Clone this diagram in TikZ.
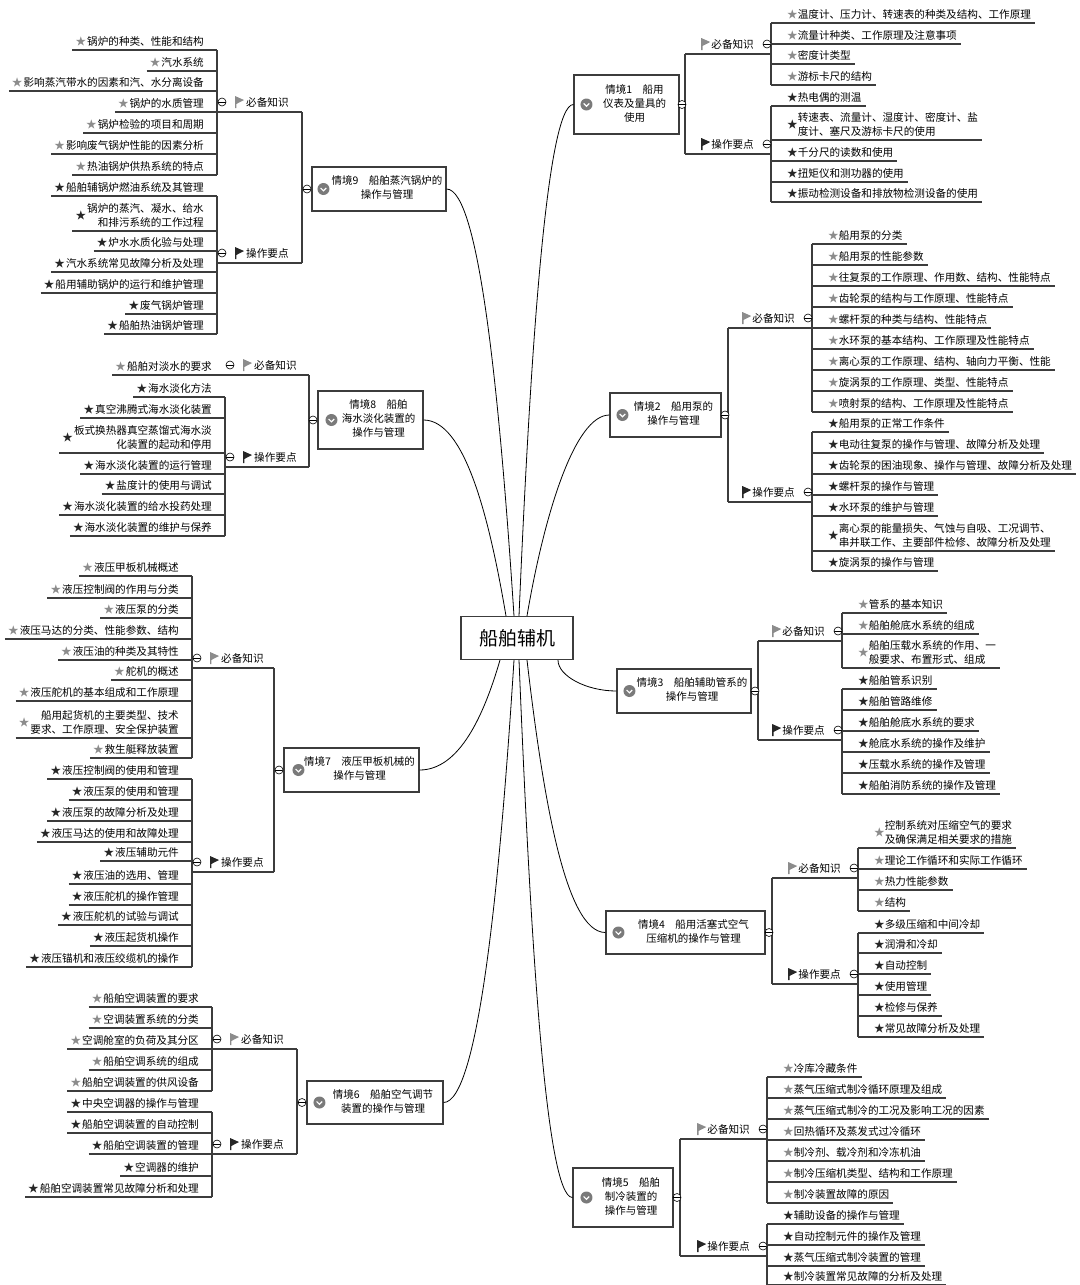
\documentclass[tikz,border=0pt]{standalone}
\usepackage{fontspec}
\setmainfont{Noto Sans CJK SC}
\usepackage{xcolor}
\definecolor{inkline}{HTML}{3C3C3C}
\definecolor{stargray}{HTML}{8C8C8C}
\definecolor{starblack}{HTML}{262626}
\definecolor{icongray}{HTML}{7A7A7A}
\usetikzlibrary{calc}
\newcommand{\gst}{{\color{stargray}★}}
\newcommand{\bst}{{\color{starblack}★}}
\newcommand{\lfl}[1]{\begin{tabular}{@{}l@{}}#1\end{tabular}}
\newcommand{\lfr}[1]{\begin{tabular}{@{}r@{}}#1\end{tabular}}
\newcommand{\bxt}[1]{\hspace*{16pt}\begin{tabular}{@{}c@{}}#1\end{tabular}}
\tikzset{
  hub/.style={draw=inkline, line width=1.1pt, fill=white, minimum width=112, minimum height=43,
              font=\fontsize{19}{22}\selectfont},
  sbox/.style={draw=inkline, line width=1.1pt, fill=white, inner sep=0pt,
               font=\fontsize{10.5}{14}\selectfont},
  ico/.style={circle, fill=icongray, minimum size=12, inner sep=0pt,
              path picture={\draw[white, line width=1.2pt]
                ([xshift=-2.8pt,yshift=1pt]path picture bounding box.center) --
                ([yshift=-1.8pt]path picture bounding box.center) --
                ([xshift=2.8pt,yshift=1pt]path picture bounding box.center);}},
  fold/.style={circle, draw=black, fill=white, line width=0.6pt, minimum size=8, inner sep=0pt,
               path picture={\draw[line width=0.6pt] (path picture bounding box.west) -- (path picture bounding box.east);}},
  lfR/.style={anchor=south west, inner xsep=4pt, inner ysep=0pt, font=\fontsize{10.6}{14}\selectfont},
  lfL/.style={anchor=south east, inner xsep=3pt, inner ysep=0pt, font=\fontsize{10.6}{14}\selectfont},
  catR/.style={anchor=east, inner sep=0pt, font=\fontsize{10.6}{13}\selectfont},
  catL/.style={anchor=west, inner sep=0pt, font=\fontsize{10.6}{13}\selectfont},
  ln/.style={draw=inkline, line width=1.1pt},
  ar/.style={draw=black, line width=0.8pt},
  flagpic/.pic={\fill (0,6) -- (0,-6) -- (9,-2) -- (1.3,2) -- (1.3,6) -- cycle;},
}

\begin{document}
\begin{tikzpicture}[x=1pt, y=-1pt]
  \useasboundingbox (0,0) rectangle (1079,1285);
  \node[hub] (hub) at (517,638) {船舶辅机};

  % 情境1
  \node[sbox, minimum width=105, minimum height=59] (s1) at (626.5,104.5) {\bxt{情境1\quad 船用\\仪表及量具的\\使用}};
  \node[ico] (i1) at ([xshift=13pt]s1.west) {};
  \draw[ln] (685,54) -- (685,154);
  \draw[ln] (685,54) -- (771,54);
  \draw[ln] (685,154) -- (771,154);
  \draw[ln] (771,23) -- (771,85);
  \draw[ln] (771,106) -- (771,202);
  \node[catR] (c1a) at (754,44) {必备知识};
  \node[catR] (c1b) at (754,144) {操作要点};
  \pic[color=stargray] at ([xshift=-10pt]c1a.west) {flagpic};
  \pic[color=starblack] at ([xshift=-10pt]c1b.west) {flagpic};
  \foreach \y/\txt [count=\i] in {23/{温度计、压力计、转速表的种类及结构、工作原理}, 44/{流量计种类、工作原理及注意事项},
      64/{密度计类型}, 85/{游标卡尺的结构}}{
    \node[lfR] (l1a\i) at (783,\y) {\gst\lfl{\txt}};
    \draw[ln] (771,\y) -- (l1a\i.south east);
  }
  \foreach \y/\txt [count=\i] in {106/{热电偶的测温}, 140/{转速表、流量计、湿度计、密度计、盐\\度计、塞尺及游标卡尺的使用},
      161/{千分尺的读数和使用}, 182/{扭矩仪和测功器的使用}, 202/{振动检测设备和排放物检测设备的使用}}{
    \node[lfR] (l1b\i) at (783,\y) {\bst\lfl{\txt}};
    \draw[ln] (771,\y) -- (l1b\i.south east);
  }
  \node[fold] (f1) at (682,104.5) {};
  \node[fold] (f1a) at (767,44) {};
  \node[fold] (f1b) at (767,144) {};

  % 情境2
  \node[sbox, minimum width=111, minimum height=44] (s2) at (665.5,415) {\bxt{情境2\quad 船用泵的\\操作与管理}};
  \node[ico] (i2) at ([xshift=13pt]s2.west) {};
  \draw[ln] (728,328) -- (728,502);
  \draw[ln] (728,328) -- (812,328);
  \draw[ln] (728,502) -- (812,502);
  \draw[ln] (812,244) -- (812,412);
  \draw[ln] (812,432) -- (812,571);
  \node[catR] (c2a) at (795,318) {必备知识};
  \node[catR] (c2b) at (795,492) {操作要点};
  \pic[color=stargray] at ([xshift=-10pt]c2a.west) {flagpic};
  \pic[color=starblack] at ([xshift=-10pt]c2b.west) {flagpic};
  \foreach \y/\txt [count=\i] in {244/{船用泵的分类}, 265/{船用泵的性能参数}, 286/{往复泵的工作原理、作用数、结构、性能特点},
      307/{齿轮泵的结构与工作原理、性能特点}, 328/{螺杆泵的种类与结构、性能特点}, 349/{水环泵的基本结构、工作原理及性能特点},
      370/{离心泵的工作原理、结构、轴向力平衡、性能}, 391/{旋涡泵的工作原理、类型、性能特点}, 412/{喷射泵的结构、工作原理及性能特点}}{
    \node[lfR] (l2a\i) at (824,\y) {\gst\lfl{\txt}};
    \draw[ln] (812,\y) -- (l2a\i.south east);
  }
  \foreach \y/\txt [count=\i] in {432/{船用泵的正常工作条件}, 453/{电动往复泵的操作与管理、故障分析及处理},
      474/{齿轮泵的困油现象、操作与管理、故障分析及处理}, 495/{螺杆泵的操作与管理}, 516/{水环泵的维护与管理},
      551/{离心泵的能量损失、气蚀与自吸、工况调节、\\串并联工作、主要部件检修、故障分析及处理}, 571/{旋涡泵的操作与管理}}{
    \node[lfR] (l2b\i) at (824,\y) {\bst\lfl{\txt}};
    \draw[ln] (812,\y) -- (l2b\i.south east);
  }
  \node[fold] (f2) at (725,415) {};
  \node[fold] (f2a) at (808,318) {};
  \node[fold] (f2b) at (808,492) {};

  % 情境3
  \node[sbox, minimum width=134, minimum height=44] (s3) at (684,691) {\bxt{情境3\quad 船舶辅助管系的\\操作与管理}};
  \node[ico] (i3) at ([xshift=13pt]s3.west) {};
  \draw[ln] (758,641) -- (758,740);
  \draw[ln] (758,641) -- (842,641);
  \draw[ln] (758,740) -- (842,740);
  \draw[ln] (842,613) -- (842,668);
  \draw[ln] (842,689) -- (842,794);
  \node[catR] (c3a) at (825,631) {必备知识};
  \node[catR] (c3b) at (825,730) {操作要点};
  \pic[color=stargray] at ([xshift=-10pt]c3a.west) {flagpic};
  \pic[color=starblack] at ([xshift=-10pt]c3b.west) {flagpic};
  \foreach \y/\txt [count=\i] in {613/{管系的基本知识}, 634/{船舶舱底水系统的组成},
      668/{船舶压载水系统的作用、一\\般要求、布置形式、组成}}{
    \node[lfR] (l3a\i) at (854,\y) {\gst\lfl{\txt}};
    \draw[ln] (842,\y) -- (l3a\i.south east);
  }
  \foreach \y/\txt [count=\i] in {689/{船舶管系识别}, 710/{船舶管路维修}, 731/{船舶舱底水系统的要求},
      752/{舱底水系统的操作及维护}, 773/{压载水系统的操作及管理}, 794/{船舶消防系统的操作及管理}}{
    \node[lfR] (l3b\i) at (854,\y) {\bst\lfl{\txt}};
    \draw[ln] (842,\y) -- (l3b\i.south east);
  }
  \node[fold] (f3) at (755,691) {};
  \node[fold] (f3a) at (838,631) {};
  \node[fold] (f3b) at (838,730) {};

  % 情境4
  \node[sbox, minimum width=159, minimum height=43] (s4) at (685.5,932.5) {\bxt{情境4\quad 船用活塞式空气\\压缩机的操作与管理}};
  \node[ico] (i4) at ([xshift=13pt]s4.west) {};
  \draw[ln] (772,878) -- (772,984);
  \draw[ln] (772,878) -- (858,878);
  \draw[ln] (772,984) -- (858,984);
  \draw[ln] (858,848) -- (858,911);
  \draw[ln] (858,933) -- (858,1037);
  \node[catR] (c4a) at (841,868) {必备知识};
  \node[catR] (c4b) at (841,974) {操作要点};
  \pic[color=stargray] at ([xshift=-10pt]c4a.west) {flagpic};
  \pic[color=starblack] at ([xshift=-10pt]c4b.west) {flagpic};
  \foreach \y/\txt [count=\i] in {848/{控制系统对压缩空气的要求\\及确保满足相关要求的措施}, 869/{理论工作循环和实际工作循环},
      890/{热力性能参数}, 911/{结构}}{
    \node[lfR] (l4a\i) at (870,\y) {\gst\lfl{\txt}};
    \draw[ln] (858,\y) -- (l4a\i.south east);
  }
  \foreach \y/\txt [count=\i] in {933/{多级压缩和中间冷却}, 953/{润滑和冷却}, 974/{自动控制},
      995/{使用管理}, 1016/{检修与保养}, 1037/{常见故障分析及处理}}{
    \node[lfR] (l4b\i) at (870,\y) {\bst\lfl{\txt}};
    \draw[ln] (858,\y) -- (l4b\i.south east);
  }
  \node[fold] (f4) at (769,932.5) {};
  \node[fold] (f4a) at (854,868) {};
  \node[fold] (f4b) at (854,974) {};

  % 情境5
  \node[sbox, minimum width=100, minimum height=59] (s5) at (623,1197.5) {\bxt{情境5\quad 船舶\\制冷装置的\\操作与管理}};
  \node[ico] (i5) at ([xshift=14pt]s5.west) {};
  \draw[ln] (680,1139) -- (680,1256);
  \draw[ln] (680,1139) -- (767,1139);
  \draw[ln] (680,1256) -- (767,1256);
  \draw[ln] (767,1077) -- (767,1203);
  \draw[ln] (767,1224) -- (767,1285);
  \node[catR] (c5a) at (750,1129) {必备知识};
  \node[catR] (c5b) at (750,1246) {操作要点};
  \pic[color=stargray] at ([xshift=-10pt]c5a.west) {flagpic};
  \pic[color=starblack] at ([xshift=-10pt]c5b.west) {flagpic};
  \foreach \y/\txt [count=\i] in {1077/{冷库冷藏条件}, 1098/{蒸气压缩式制冷循环原理及组成},
      1119/{蒸气压缩式制冷的工况及影响工况的因素}, 1140/{回热循环及蒸发式过冷循环}, 1161/{制冷剂、载冷剂和冷冻机油},
      1182/{制冷压缩机类型、结构和工作原理}, 1203/{制冷装置故障的原因}}{
    \node[lfR] (l5a\i) at (779,\y) {\gst\lfl{\txt}};
    \draw[ln] (767,\y) -- (l5a\i.south east);
  }
  \foreach \y/\txt [count=\i] in {1224/{辅助设备的操作与管理}, 1245/{自动控制元件的操作及管理},
      1266/{蒸气压缩式制冷装置的管理}, 1285/{制冷装置常见故障的分析及处理}}{
    \node[lfR] (l5b\i) at (779,\y) {\bst\lfl{\txt}};
    \draw[ln] (767,\y) -- (l5b\i.south east);
  }
  \node[fold] (f5) at (677,1197.5) {};
  \node[fold] (f5a) at (763,1129) {};
  \node[fold] (f5b) at (763,1246) {};

  % 情境6
  \node[sbox, minimum width=136, minimum height=43] (s6) at (375,1102.5) {\bxt{情境6\quad 船舶空气调节\\装置的操作与管理}};
  \node[ico] (i6) at ([xshift=13pt]s6.west) {};
  \draw[ln] (297,1049) -- (297,1154);
  \draw[ln] (297,1049) -- (212,1049);
  \draw[ln] (297,1154) -- (212,1154);
  \draw[ln] (212,1007) -- (212,1091);
  \draw[ln] (212,1112) -- (212,1197);
  \node[catL] (c6a) at (241,1039) {必备知识};
  \node[catL] (c6b) at (241,1144) {操作要点};
  \pic[color=stargray] at ([xshift=-11pt]c6a.west) {flagpic};
  \pic[color=starblack] at ([xshift=-11pt]c6b.west) {flagpic};
  \foreach \y/\txt [count=\i] in {1007/{船舶空调装置的要求}, 1028/{空调装置系统的分类}, 1049/{空调舱室的负荷及其分区},
      1070/{船舶空调系统的组成}, 1091/{船舶空调装置的供风设备}}{
    \node[lfL] (l6a\i) at (202,\y) {\gst\kern1pt\lfr{\txt}};
    \draw[ln] (l6a\i.south west) -- (212,\y);
  }
  \foreach \y/\txt [count=\i] in {1112/{中央空调器的操作与管理}, 1133/{船舶空调装置的自动控制}, 1154/{船舶空调装置的管理},
      1176/{空调器的维护}, 1197/{船舶空调装置常见故障分析和处理}}{
    \node[lfL] (l6b\i) at (202,\y) {\bst\kern1pt\lfr{\txt}};
    \draw[ln] (l6b\i.south west) -- (212,\y);
  }
  \node[fold] (f6) at (302,1102.5) {};
  \node[fold] (f6a) at (217,1039) {};
  \node[fold] (f6b) at (217,1144) {};

  % 情境7
  \node[sbox, minimum width=135, minimum height=44] (s7) at (351.5,770) {\bxt{情境7\quad 液压甲板机械的\\操作与管理}};
  \node[ico] (i7) at ([xshift=15pt]s7.west) {};
  \draw[ln] (274,668) -- (274,872);
  \draw[ln] (274,668) -- (192,668);
  \draw[ln] (274,872) -- (192,872);
  \draw[ln] (192,576) -- (192,758);
  \draw[ln] (192,779) -- (192,967);
  \node[catL] (c7a) at (221,658) {必备知识};
  \node[catL] (c7b) at (221,862) {操作要点};
  \pic[color=stargray] at ([xshift=-11pt]c7a.west) {flagpic};
  \pic[color=starblack] at ([xshift=-11pt]c7b.west) {flagpic};
  \foreach \y/\txt [count=\i] in {576/{液压甲板机械概述}, 598/{液压控制阀的作用与分类}, 618/{液压泵的分类},
      639/{液压马达的分类、性能参数、结构}, 660/{液压油的种类及其特性}, 680/{舵机的概述},
      701/{液压舵机的基本组成和工作原理}, 738/{船用起货机的主要类型、技术\\要求、工作原理、安全保护装置},
      758/{救生艇释放装置}}{
    \node[lfL] (l7a\i) at (182,\y) {\gst\kern1pt\lfr{\txt}};
    \draw[ln] (l7a\i.south west) -- (192,\y);
  }
  \foreach \y/\txt [count=\i] in {779/{液压控制阀的使用和管理}, 800/{液压泵的使用和管理}, 821/{液压泵的故障分析及处理},
      842/{液压马达的使用和故障处理}, 861/{液压辅助元件}, 884/{液压油的选用、管理}, 905/{液压舵机的操作管理},
      925/{液压舵机的试验与调试}, 946/{液压起货机操作}, 967/{液压锚机和液压绞缆机的操作}}{
    \node[lfL] (l7b\i) at (182,\y) {\bst\kern1pt\lfr{\txt}};
    \draw[ln] (l7b\i.south west) -- (192,\y);
  }
  \node[fold] (f7) at (279,770) {};
  \node[fold] (f7a) at (197,658) {};
  \node[fold] (f7b) at (197,862) {};

  % 情境8
  \node[sbox, minimum width=105, minimum height=58] (s8) at (370.5,420) {\bxt{情境8\quad 船舶\\海水淡化装置的\\操作与管理}};
  \node[ico] (i8) at ([xshift=14pt]s8.west) {};
  \draw[ln] (309,375) -- (309,467);
  \draw[ln] (309,375) -- (225,375);
  \draw[ln] (309,467) -- (225,467);
  \draw[ln] (225,397) -- (225,536);
  \node[catL] (c8a) at (254,365) {必备知识};
  \node[catL] (c8b) at (254,457) {操作要点};
  \pic[color=stargray] at ([xshift=-11pt]c8a.west) {flagpic};
  \pic[color=starblack] at ([xshift=-11pt]c8b.west) {flagpic};
  \node[lfL] (l8a1) at (215,375) {\gst\kern1pt\lfr{船舶对淡水的要求}};
  \draw[ln] (l8a1.south west) -- (225,375);
  \foreach \y/\txt [count=\i] in {397/{海水淡化方法}, 418/{真空沸腾式海水淡化装置},
      453/{板式换热器真空蒸馏式海水淡\\化装置的起动和停用}, 474/{海水淡化装置的运行管理}, 494/{盐度计的使用与调试},
      515/{海水淡化装置的给水投药处理}, 536/{海水淡化装置的维护与保养}}{
    \node[lfL] (l8b\i) at (215,\y) {\bst\kern1pt\lfr{\txt}};
    \draw[ln] (l8b\i.south west) -- (225,\y);
  }
  \node[fold] (f8) at (313,420) {};
  \node[fold] (f8a) at (230,365) {};
  \node[fold] (f8b) at (230,457) {};

  % 情境9
  \node[sbox, minimum width=134, minimum height=44] (s9) at (379,189) {\bxt{情境9\quad 船舶蒸汽锅炉的\\操作与管理}};
  \node[ico] (i9) at ([xshift=12pt]s9.west) {};
  \draw[ln] (302,112) -- (302,263);
  \draw[ln] (302,112) -- (217,112);
  \draw[ln] (302,263) -- (217,263);
  \draw[ln] (217,50) -- (217,175);
  \draw[ln] (217,196) -- (217,334);
  \node[catL] (c9a) at (246,102) {必备知识};
  \node[catL] (c9b) at (246,253) {操作要点};
  \pic[color=stargray] at ([xshift=-11pt]c9a.west) {flagpic};
  \pic[color=starblack] at ([xshift=-11pt]c9b.west) {flagpic};
  \foreach \y/\txt [count=\i] in {50/{锅炉的种类、性能和结构}, 71/{汽水系统}, 91/{影响蒸汽带水的因素和汽、水分离设备},
      112/{锅炉的水质管理}, 133/{锅炉检验的项目和周期}, 154/{影响废气锅炉性能的因素分析}, 175/{热油锅炉供热系统的特点}}{
    \node[lfL] (l9a\i) at (207,\y) {\gst\kern1pt\lfr{\txt}};
    \draw[ln] (l9a\i.south west) -- (217,\y);
  }
  \foreach \y/\txt [count=\i] in {196/{船舶辅锅炉燃油系统及其管理}, 231/{锅炉的蒸汽、凝水、给水\\和排污系统的工作过程},
      251/{炉水水质化验与处理}, 272/{汽水系统常见故障分析及处理}, 293/{船用辅助锅炉的运行和维护管理},
      314/{废气锅炉管理}, 334/{船舶热油锅炉管理}}{
    \node[lfL] (l9b\i) at (207,\y) {\bst\kern1pt\lfr{\txt}};
    \draw[ln] (l9b\i.south west) -- (217,\y);
  }
  \node[fold] (f9) at (307,189) {};
  \node[fold] (f9a) at (222,102) {};
  \node[fold] (f9b) at (222,253) {};

  % curves from the hub
  \coordinate (h8) at ([xshift=-11pt]hub.north);
  \coordinate (h9) at ([xshift=-3pt]hub.north);
  \coordinate (h1) at ([xshift=2pt]hub.north);
  \coordinate (h2) at ([xshift=10pt]hub.north);
  \coordinate (h7) at ([xshift=-17pt]hub.south);
  \coordinate (h6) at ([xshift=-3pt]hub.south);
  \coordinate (h5) at ([xshift=2pt]hub.south);
  \coordinate (h4) at ([xshift=10pt]hub.south);
  \coordinate (h3) at ([xshift=41pt]hub.south);
  \draw[ar] (s9.east) .. controls +(33,0) and +(-14,-214) .. (h9);
  \draw[ar] (s8.east) .. controls +(41,0) and +(-17,-100) .. (h8);
  \draw[ar] (s1.west) .. controls +(-27,0) and +(11,-257) .. (h1);
  \draw[ar] (s2.west) .. controls +(-35,0) and +(17,-100) .. (h2);
  \draw[ar] (s7.east) .. controls +(40,0) and +(-16,55) .. (h7);
  \draw[ar] (s6.east) .. controls +(35,0) and +(-14,221) .. (h6);
  \draw[ar] (s5.west) .. controls +(-27,0) and +(11,269) .. (h5);
  \draw[ar] (s4.west) .. controls +(-40,0) and +(16,137) .. (h4);
  \draw[ar] (s3.west) .. controls +(-30,0) and +(0,16) .. (h3);
\end{tikzpicture}
\end{document}
